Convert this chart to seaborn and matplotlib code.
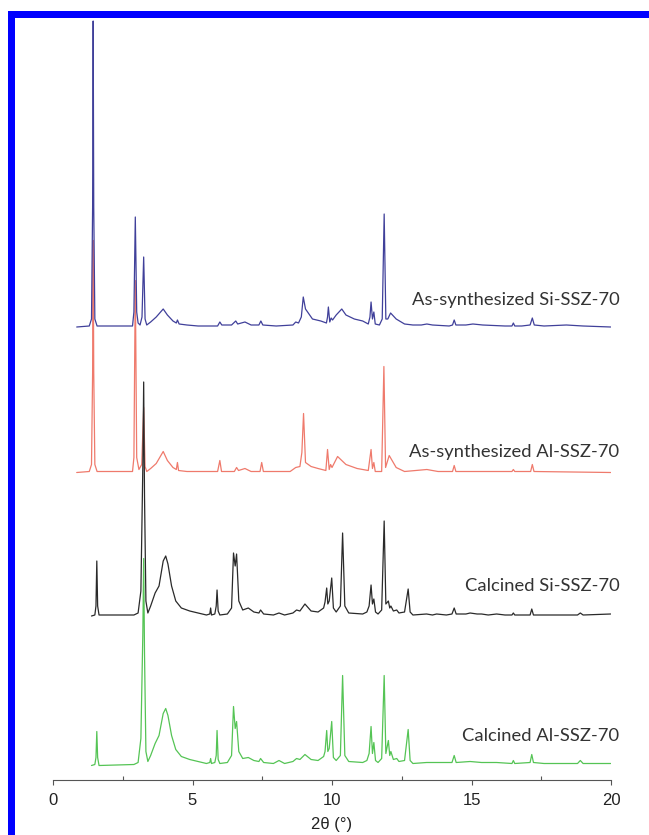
import numpy as np
import pandas as pd
import matplotlib
matplotlib.use("Agg")
import matplotlib.pyplot as plt
from matplotlib.patches import Rectangle
import seaborn as sns

si_as_x = [0.85, 1.30, 1.38, 1.42, 1.44, 1.46, 1.50, 1.58, 2.85, 2.90, 2.95, 3.00, 3.05, 3.12, 3.19, 3.25,
           3.30, 3.36, 3.50, 3.70, 3.95, 4.10, 4.30, 4.42, 4.46, 4.52, 4.80, 5.20, 5.90, 5.98, 6.05, 6.40,
           6.55, 6.62, 6.88, 7.10, 7.38, 7.45, 7.52, 8.00, 8.60, 8.70, 8.80, 8.90, 8.97, 9.05, 9.30, 9.60,
           9.80, 9.84, 9.87, 9.92, 9.97, 10.02, 10.15, 10.35, 10.50, 10.80, 11.10, 11.30, 11.36, 11.40, 11.45,
           11.50, 11.55, 11.70, 11.80, 11.87, 11.93, 12.00, 12.10, 12.30, 12.60, 12.90, 13.20, 13.40, 13.60,
           14.20, 14.32, 14.38, 14.44, 14.80, 15.05, 15.40, 16.20, 16.45, 16.50, 16.55, 16.80, 17.10, 17.18,
           17.25, 17.60, 18.40, 19.00, 19.99]
si_as_y = [0, 1, 8, 120, 306, 120, 8, 1, 1, 15, 110, 15, 4, 2, 10, 70,
           8, 2, 5, 10, 18, 12, 6, 4, 7, 3, 2, 1, 1, 5, 2, 2,
           6, 3, 5, 2, 2, 6, 2, 1, 2, 5, 4, 10, 30, 18, 8, 6,
           4, 10, 20, 5, 9, 7, 12, 18, 12, 8, 6, 3, 10, 25, 8,
           15, 3, 2, 8, 113, 8, 8, 14, 8, 3, 2, 2, 3, 2,
           1, 2, 7, 2, 2, 3, 2, 1, 1, 4, 1, 1, 2, 9,
           2, 1, 2, 1, 0]

al_as_x = [0.85, 1.30, 1.38, 1.42, 1.44, 1.46, 1.50, 1.58, 2.85, 2.90, 2.95, 3.00, 3.08, 3.18, 3.25, 3.30,
           3.36, 3.50, 3.70, 3.95, 4.10, 4.30, 4.42, 4.46, 4.50, 4.80, 5.90, 5.98, 6.04, 6.50, 6.58, 6.65,
           6.88, 7.10, 7.42, 7.48, 7.54, 8.50, 8.70, 8.85, 8.92, 8.98, 9.05, 9.25, 9.50, 9.78, 9.84, 9.90,
           9.95, 10.00, 10.20, 10.35, 10.50, 10.90, 11.30, 11.40, 11.45, 11.50, 11.55, 11.78, 11.86, 11.92,
           12.05, 12.30, 12.60, 13.40, 13.80, 14.32, 14.38, 14.44, 16.45, 16.50, 16.55, 17.12, 17.18, 17.24,
           19.99]
al_as_y = [0, 1, 8, 100, 232, 100, 8, 1, 1, 15, 192, 15, 3, 8, 65, 6,
           1, 4, 9, 21, 12, 5, 3, 10, 2, 1, 1, 12, 1, 1, 5, 2,
           4, 1, 1, 10, 1, 1, 5, 6, 20, 59, 10, 6, 4, 2, 23, 3,
           8, 5, 16, 12, 8, 4, 2, 23, 4, 10, 1, 1, 106, 5,
           17, 5, 1, 3, 1, 1, 7, 1, 1, 3, 1, 1, 8, 1,
           0]

si_calc_x = [1.38, 1.50, 1.54, 1.57, 1.60, 1.65, 2.90, 3.05, 3.15, 3.22, 3.25, 3.28, 3.33, 3.40, 3.50, 3.66,
             3.80, 3.95, 4.04, 4.12, 4.25, 4.40, 4.60, 4.90, 5.20, 5.50, 5.62, 5.65, 5.68, 5.80, 5.85, 5.88,
             5.92, 5.98, 6.25, 6.40, 6.47, 6.53, 6.58, 6.66, 6.80, 7.00, 7.20, 7.38, 7.44, 7.55, 7.90, 8.10,
             8.30, 8.60, 8.73, 8.85, 9.03, 9.25, 9.50, 9.70, 9.75, 9.81, 9.85, 9.90, 9.99, 10.05, 10.15, 10.30,
             10.38, 10.46, 10.60, 11.10, 11.25, 11.33, 11.40, 11.45, 11.50, 11.56, 11.65, 11.78, 11.87, 11.93,
             12.02, 12.07, 12.11, 12.20, 12.32, 12.40, 12.60, 12.73, 12.80, 12.90, 13.39, 13.60, 13.75, 14.10,
             14.30, 14.38, 14.45, 14.80, 14.95, 15.20, 15.36, 15.60, 15.90, 16.20, 16.45, 16.50, 16.55, 17.10,
             17.16, 17.22, 18.00, 18.80, 18.90, 19.00, 19.99]
si_calc_y = [0, 1, 10, 55, 10, 1, 1, 3, 25, 150, 234, 120, 15, 3, 10, 23,
             30, 55, 60, 52, 30, 15, 8, 5, 3, 1, 2, 8, 1, 2, 10, 26,
             5, 1, 2, 8, 63, 50, 62, 15, 6, 8, 4, 3, 6, 2, 1, 3,
             1, 3, 6, 5, 12, 5, 4, 8, 14, 28, 12, 15, 38, 8, 4, 10,
             83, 10, 3, 2, 4, 10, 31, 12, 17, 4, 2, 6, 95, 12,
             15, 8, 10, 5, 6, 3, 4, 27, 4, 1, 2, 1, 2, 1,
             2, 8, 2, 2, 3, 2, 2, 1, 2, 1, 1, 3, 1, 1,
             7, 1, 1, 1, 3, 1, 2]

al_calc_x = [1.38, 1.50, 1.54, 1.57, 1.60, 1.65, 2.90, 3.05, 3.15, 3.22, 3.25, 3.28, 3.33, 3.40, 3.50, 3.66,
             3.80, 3.95, 4.04, 4.12, 4.25, 4.40, 4.60, 4.90, 5.20, 5.50, 5.62, 5.65, 5.68, 5.80, 5.85, 5.88,
             5.92, 5.98, 6.25, 6.40, 6.47, 6.53, 6.58, 6.66, 6.80, 7.00, 7.20, 7.38, 7.44, 7.55, 7.90, 8.10,
             8.30, 8.60, 8.73, 8.85, 9.03, 9.25, 9.50, 9.70, 9.75, 9.81, 9.85, 9.90, 9.99, 10.05, 10.15, 10.30,
             10.38, 10.46, 10.60, 11.10, 11.25, 11.33, 11.40, 11.45, 11.50, 11.56, 11.65, 11.78, 11.87, 11.93,
             12.02, 12.07, 12.11, 12.20, 12.32, 12.40, 12.60, 12.73, 12.80, 12.90, 13.39, 13.75, 14.30, 14.38,
             14.45, 14.95, 15.36, 15.90, 16.45, 16.50, 16.55, 17.10, 17.16, 17.22, 17.60, 18.80, 18.90, 19.00,
             19.99]
al_calc_y = [-2, -1, 6, 32, 6, -2, -1, 1, 25, 130, 205, 110, 12, 2, 8, 20,
             28, 50, 55, 48, 28, 14, 7, 4, 2, 0, 1, 5, 0, 1, 8, 33,
             4, 0, 1, 8, 57, 35, 42, 12, 5, 6, 3, 2, 5, 1, 0, 3,
             0, 2, 5, 4, 9, 4, 3, 7, 12, 33, 12, 15, 42, 6, 3, 8,
             88, 8, 2, 1, 3, 10, 37, 10, 21, 3, 1, 5, 88, 10,
             23, 8, 12, 4, 5, 2, 3, 34, 3, 0, 1, 1, 1, 8,
             1, 2, 1, 1, 0, 3, 0, 1, 9, 1, 0, 0, 3, 0,
             0]

samples = ["Calcined Al-SSZ-70", "As-synthesized Al-SSZ-70", "Calcined Si-SSZ-70", "As-synthesized Si-SSZ-70"]
offsets = [16.5, 307.5, 164, 453]
colors = ["#55c455", "#ef7a6c", "#2a2a2a", "#40409a"]
label_y = [44, 328, 194, 480]

traces = [(al_calc_x, al_calc_y), (al_as_x, al_as_y), (si_calc_x, si_calc_y), (si_as_x, si_as_y)]
frames = []
for name, off, (xs, ys) in zip(samples, offsets, traces):
    frames.append(pd.DataFrame({"two_theta": xs, "intensity": np.array(ys) + off, "sample": name}))
df = pd.concat(frames, ignore_index=True)

sns.set_style("white")
fig = plt.figure(figsize=(6.49, 8.35), dpi=100)
ax = fig.add_axes([53 / 649, 55 / 835, 558 / 649, 762 / 835])

sns.lineplot(data=df, x="two_theta", y="intensity", hue="sample", hue_order=samples,
             palette=colors, estimator=None, sort=False, linewidth=0.9, legend=False, ax=ax)

for name, ly in zip(samples, label_y):
    ax.text(20.3, ly, name, ha="right", va="center", fontsize=13.2, color="#333333",
            family=["Lato", "DejaVu Sans"])

ax.set_xlim(0, 20)
ax.set_ylim(0, 762)
ax.set_xticks([0, 5, 10, 15, 20])
ax.set_xticks([2.5, 7.5, 12.5, 17.5], minor=True)
ax.set_yticks([])
ax.set_ylabel("")
ax.set_xlabel("2θ (°)", fontsize=12, family="Liberation Sans", color="#222222", labelpad=6)
for lab in ax.get_xticklabels():
    lab.set_family("Liberation Sans")
ax.tick_params(axis="x", which="major", direction="out", length=3.5, width=0.8, color="#555555",
               labelsize=12, labelcolor="#222222", pad=6, bottom=True)
ax.tick_params(axis="x", which="minor", direction="in", length=3, width=0.8, color="#555555", bottom=True)
sns.despine(ax=ax, left=True, top=True, right=True)
ax.spines["bottom"].set_color("#555555")
ax.spines["bottom"].set_linewidth(0.8)
ax.patch.set_alpha(0)

# blue frame on the left and top edges
fig.add_artist(Rectangle((8 / 649, 0), 6.5 / 649, 1 - 11 / 835, transform=fig.transFigure,
                         color="#0000ff", lw=0, zorder=5))
fig.add_artist(Rectangle((8 / 649, 1 - 18 / 835), 1, 7 / 835, transform=fig.transFigure,
                         color="#0000ff", lw=0, zorder=5))

fig.savefig("out.png", dpi=100)
